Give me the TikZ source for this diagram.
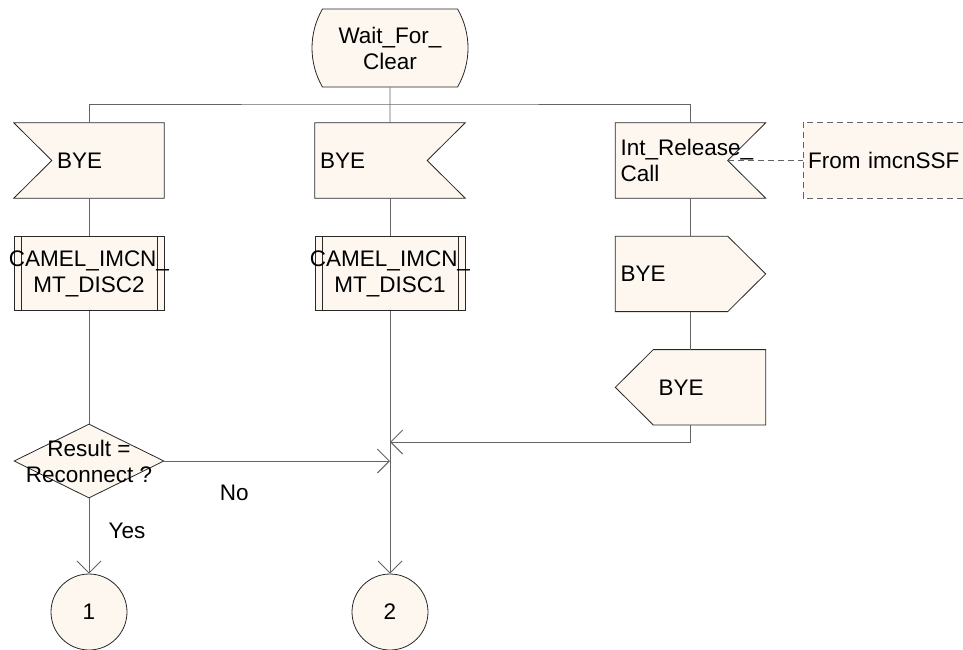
\documentclass[tikz,border=0pt]{standalone}
\usepackage{fontspec}
\setmainfont{Liberation Sans}
\usetikzlibrary{shapes.geometric, shapes.misc, arrows.meta, positioning, backgrounds, calc}
\definecolor{sdlfill}{RGB}{253,247,240}
\definecolor{sdlline}{RGB}{40,40,40}
\definecolor{sdlwire}{RGB}{100,100,100}
\hyphenpenalty=10000

\begin{document}
\begin{tikzpicture}[
  x=1pt, y=-1pt,
  font=\fontsize{22.5}{26}\selectfont,
  state/.style={draw=sdlline,fill=sdlfill,line width=0.8pt,rounded rectangle,
                rounded rectangle arc length=60,minimum width=152pt,minimum height=78pt,
                align=center,inner sep=0pt},
  sig/.style={minimum width=150pt,minimum height=75pt,text width=140pt,inner xsep=5pt,align=left},
  lpad/.style={execute at begin node={\hspace*{38pt}}},
  outl/.style={draw=sdlline,fill=sdlfill,line width=0.8pt},
  proc/.style={draw=sdlline,fill=sdlfill,line width=0.8pt,minimum width=150pt,minimum height=74pt,
               text width=136pt,align=center,
               path picture={\draw[sdlline,line width=0.8pt]
                 ([xshift=7pt]path picture bounding box.north west) -- ([xshift=7pt]path picture bounding box.south west)
                 ([xshift=-7pt]path picture bounding box.north east) -- ([xshift=-7pt]path picture bounding box.south east);}},
  dec/.style={draw=sdlline,fill=sdlfill,line width=0.8pt,diamond,minimum width=150pt,
              minimum height=74pt,inner sep=0pt,align=center},
  conn/.style={draw=sdlline,fill=sdlfill,line width=0.8pt,circle,minimum size=76pt,inner sep=0pt},
  srcbox/.style={fill=sdlfill,minimum width=210pt,minimum height=75pt,text width=200pt,
                 inner xsep=5pt,align=left},
  dashline/.style={draw=sdlwire,dash pattern=on 6pt off 4pt,line width=0.8pt},
  wire/.style={draw=sdlwire,line width=0.9pt},
  arr/.style={wire,-{Straight Barb[length=12pt,width=24pt]}},
  lbl/.style={inner sep=0pt}
]
  \useasboundingbox (0,0) rectangle (963,649);
  \clip (0,0) rectangle (963,649);

  \node[state] (state) at (390,48) {Wait\_For\_\\Clear};
  \node[sig,lpad] (bye1) at (89,160.5) {BYE};
  \node[sig] (bye2) at (390,160.5) {BYE};
  \node[sig] (rel) at (690.5,160.5) {Int\_Release\_\\Call};
  \node[srcbox,anchor=west] (src) at (803,160.5) {From imcnSSF};
  \node[proc,below=38pt of bye1] (disc2) {\makebox[0pt]{CAMEL\_IMCN\_}\\MT\_DISC2};
  \node[proc,below=38pt of bye2] (disc1) {\makebox[0pt]{CAMEL\_IMCN\_}\\MT\_DISC1};
  \node[sig,below=38pt of rel] (outbye) {BYE};
  \node[sig,lpad,below=38pt of outbye] (inbye) {BYE};
  \node[dec] (dec) at (89,461) {\makebox[0pt]{Result =}\\\makebox[0pt]{Reconnect ?}};
  \node[conn] (c1) at (89,612) {1};
  \node[conn] (c2) at (390,612) {2};
  \coordinate (bus) at (390,104);
  \coordinate (join) at (390,442);

  % signal outlines
  \begin{scope}[on background layer]
    \draw[outl] (bye1.north west) -- (bye1.north east) -- (bye1.south east) -- (bye1.south west)
      -- ($(bye1.west)+(38,0)$) -- cycle;
    \draw[outl] (bye2.north west) -- (bye2.north east) -- ($(bye2.east)+(-38,0)$) -- (bye2.south east)
      -- (bye2.south west) -- cycle;
    \draw[outl] (rel.north west) -- (rel.north east) -- ($(rel.east)+(-38,0)$) -- (rel.south east)
      -- (rel.south west) -- cycle;
    \draw[outl] (outbye.north west) -- ($(outbye.north east)+(-38,0)$) -- (outbye.east)
      -- ($(outbye.south east)+(-38,0)$) -- (outbye.south west) -- cycle;
    \draw[outl] (inbye.west) -- ($(inbye.north west)+(38,0)$) -- (inbye.north east) -- (inbye.south east)
      -- ($(inbye.south west)+(38,0)$) -- cycle;
  \end{scope}
  \draw[dashline] (src.north east) -- (src.north west) -- (src.south west) -- (src.south east);

  \draw[wire] (state) -- (bye2);
  \draw[wire] (bye1.north) |- (bus) -| (rel.north);
  \draw[wire,dash pattern=on 6pt off 4pt] ($(rel.east)+(-38,0)$) -- (src);
  \draw[wire] (bye1) -- (disc2);
  \draw[wire] (disc2) -- (dec);
  \draw[arr] (dec) -- node[lbl,pos=0.43,xshift=38pt]{Yes} (c1);
  \draw[arr] (dec.east) -- node[lbl,pos=0.31,yshift=-32pt]{No} (dec.east -| c2);
  \draw[wire] (bye2) -- (disc1);
  \draw[arr] (disc1) -- (c2);
  \draw[wire] (rel) -- (outbye);
  \draw[wire] (outbye) -- (inbye);
  \draw[arr] (inbye.south) |- (join);
\end{tikzpicture}
\end{document}
